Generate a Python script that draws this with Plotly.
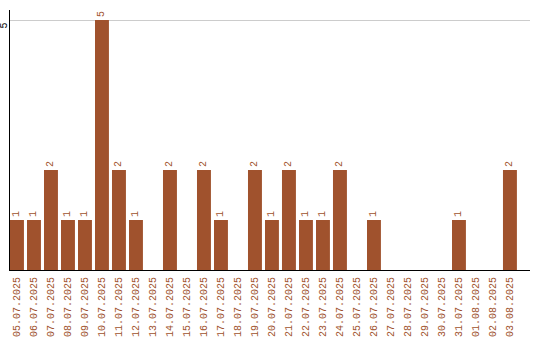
import plotly.graph_objects as go

dates = ["05.07.2025","06.07.2025","07.07.2025","08.07.2025","09.07.2025","10.07.2025",
         "11.07.2025","12.07.2025","13.07.2025","14.07.2025","15.07.2025","16.07.2025",
         "17.07.2025","18.07.2025","19.07.2025","20.07.2025","21.07.2025","22.07.2025",
         "23.07.2025","24.07.2025","25.07.2025","26.07.2025","27.07.2025","28.07.2025",
         "29.07.2025","30.07.2025","31.07.2025","01.08.2025","02.08.2025","03.08.2025"]
values = [1,1,2,1,1,5,2,1,0,2,0,2,1,0,2,1,2,1,1,2,0,1,0,0,0,0,1,0,0,2]

color = "#A0522D"
labels = [str(v) if v > 0 else "" for v in values]

fig = go.Figure(go.Bar(
    x=list(range(len(dates))), y=values, marker_color=color, marker_line_width=0,
    text=labels, textposition="outside", textangle=-90,
    textfont=dict(family="Liberation Mono", size=10, color=color),
    cliponaxis=False, hoverinfo="skip",
))
fig.update_layout(
    width=540, height=340, margin=dict(l=10, r=10, t=10, b=70),
    paper_bgcolor="white", plot_bgcolor="white", showlegend=False,
    bargap=0.18,
)
fig.update_xaxes(
    tickmode="array", tickvals=list(range(len(dates))), ticktext=dates,
    tickangle=-90, tickfont=dict(family="Liberation Mono", size=10, color=color),
    range=[-0.41, 30.18], showline=True, linecolor="black", linewidth=1,
    showgrid=False, ticks="", zeroline=False, automargin=False, ticklabelstandoff=2,
)
fig.update_yaxes(
    range=[0, 5.2], tickvals=[5], ticktext=["5"], tickangle=-90,
    tickfont=dict(family="Liberation Mono", size=10, color="black"),
    showline=True, linecolor="black", linewidth=1, automargin=False,
    showgrid=True, gridcolor="#cccccc", zeroline=False, ticks="",
    ticklabelstandoff=-2, ticklabelshift=7,
)
fig.write_html("out.html")
